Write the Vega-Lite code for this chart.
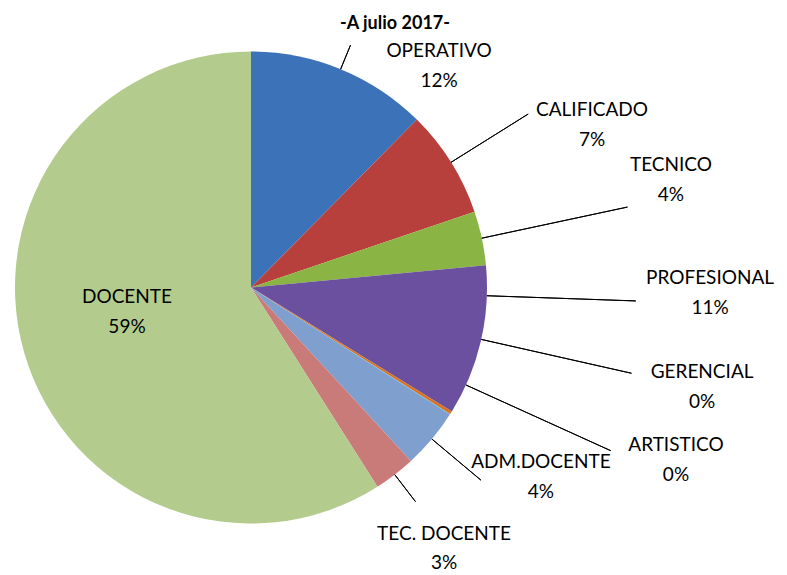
{
  "$schema": "https://vega.github.io/schema/vega-lite/v6.json",
  "autosize": {"type": "none"},
  "width": 502,
  "height": 515,
  "padding": {"left": 0, "top": 30, "right": 285, "bottom": 30},
  "background": "white",
  "title": {"text": "-A julio 2017-", "anchor": "middle", "dx": 144, "offset": -3, "fontSize": 18, "font": "Lato", "fontWeight": "bold", "color": "#000000"},
  "config": {"view": {"stroke": null}},
  "data": {"values": [
    {"order": 1, "cat": "OPERATIVO", "value": 12.4, "pct": "12%"},
    {"order": 2, "cat": "CALIFICADO", "value": 7.4, "pct": "7%"},
    {"order": 3, "cat": "TECNICO", "value": 3.7, "pct": "4%"},
    {"order": 4, "cat": "PROFESIONAL", "value": 10.3, "pct": "11%"},
    {"order": 5, "cat": "GERENCIAL", "value": 0.2, "pct": "0%"},
    {"order": 6, "cat": "ARTISTICO", "value": 0.05, "pct": "0%"},
    {"order": 7, "cat": "ADM.DOCENTE", "value": 4.1, "pct": "4%"},
    {"order": 8, "cat": "TEC. DOCENTE", "value": 2.85, "pct": "3%"},
    {"order": 9, "cat": "DOCENTE", "value": 59.0, "pct": "59%"}
  ]},
  "transform": [
    {"stack": "value", "groupby": [], "sort": [{"field": "order", "order": "ascending"}], "as": ["v0", "v1"]},
    {"calculate": "(datum.v0 + datum.v1) / 2", "as": "mid"},
    {"calculate": "datum.cat + '\\n' + datum.pct", "as": "label"}
  ],
  "layer": [
    {
      "mark": {"type": "arc", "outerRadius": 236},
      "encoding": {
        "theta": {"field": "v0", "type": "quantitative", "stack": null, "scale": {"domain": [0, 100], "range": [0, 6.283185307]}},
        "theta2": {"field": "v1"},
        "color": {"field": "cat", "type": "nominal", "legend": null, "scale": {
          "domain": ["OPERATIVO", "CALIFICADO", "TECNICO", "PROFESIONAL", "GERENCIAL", "ARTISTICO", "ADM.DOCENTE", "TEC. DOCENTE", "DOCENTE"],
          "range": ["#3B72B8", "#B8403C", "#8AB443", "#6C50A0", "#E0701A", "#4BACC6", "#7F9FCF", "#C97B7A", "#B3CC8D"]}}
      }
    },
    {
      "transform": [{"filter": "datum.cat === 'OPERATIVO'"}],
      "layer": [
        {"mark": {"type": "arc", "innerRadius": 236, "outerRadius": 262, "fill": "transparent", "stroke": "#000000", "strokeWidth": 1},
         "encoding": {"theta": {"field": "mid", "type": "quantitative", "stack": null, "scale": {"domain": [0, 100], "range": [0, 6.283185307]}}, "theta2": {"field": "mid"}}},
        {"mark": {"type": "text", "radius": 280, "dx": 81.7, "dy": 23, "font": "Lato", "fontSize": 19, "lineHeight": 30, "lineBreak": "\n", "align": "center", "baseline": "middle", "color": "#000000"},
         "encoding": {"theta": {"field": "mid", "type": "quantitative", "stack": null, "scale": {"domain": [0, 100], "range": [0, 6.283185307]}}, "text": {"field": "label"}}}
      ]
    },
    {
      "transform": [{"filter": "datum.cat === 'CALIFICADO'"}],
      "layer": [
        {"mark": {"type": "arc", "innerRadius": 236, "outerRadius": 327, "fill": "transparent", "stroke": "#000000", "strokeWidth": 1},
         "encoding": {"theta": {"field": "mid", "type": "quantitative", "stack": null, "scale": {"domain": [0, 100], "range": [0, 6.283185307]}}, "theta2": {"field": "mid"}}},
        {"mark": {"type": "text", "radius": 340, "dx": 52.8, "dy": 2.4, "font": "Lato", "fontSize": 19, "lineHeight": 30, "lineBreak": "\n", "align": "center", "baseline": "middle", "color": "#000000"},
         "encoding": {"theta": {"field": "mid", "type": "quantitative", "stack": null, "scale": {"domain": [0, 100], "range": [0, 6.283185307]}}, "text": {"field": "label"}}}
      ]
    },
    {
      "transform": [{"filter": "datum.cat === 'TECNICO'"}],
      "layer": [
        {"mark": {"type": "arc", "innerRadius": 236, "outerRadius": 385, "fill": "transparent", "stroke": "#000000", "strokeWidth": 1},
         "encoding": {"theta": {"field": "mid", "type": "quantitative", "stack": null, "scale": {"domain": [0, 100], "range": [0, 6.283185307]}}, "theta2": {"field": "mid"}}},
        {"mark": {"type": "text", "radius": 400, "dx": 28.8, "dy": -39.4, "font": "Lato", "fontSize": 19, "lineHeight": 30, "lineBreak": "\n", "align": "center", "baseline": "middle", "color": "#000000"},
         "encoding": {"theta": {"field": "mid", "type": "quantitative", "stack": null, "scale": {"domain": [0, 100], "range": [0, 6.283185307]}}, "text": {"field": "label"}}}
      ]
    },
    {
      "transform": [{"filter": "datum.cat === 'PROFESIONAL'"}],
      "layer": [
        {"mark": {"type": "arc", "innerRadius": 236, "outerRadius": 385, "thetaOffset": -0.1944, "theta2Offset": -0.1944, "fill": "transparent", "stroke": "#000000", "strokeWidth": 1},
         "encoding": {"theta": {"field": "mid", "type": "quantitative", "stack": null, "scale": {"domain": [0, 100], "range": [0, 6.283185307]}}, "theta2": {"field": "mid"}}},
        {"mark": {"type": "text", "radius": 400, "dx": 69.5, "dy": -100.4, "font": "Lato", "fontSize": 19, "lineHeight": 30, "lineBreak": "\n", "align": "center", "baseline": "middle", "color": "#000000"},
         "encoding": {"theta": {"field": "mid", "type": "quantitative", "stack": null, "scale": {"domain": [0, 100], "range": [0, 6.283185307]}}, "text": {"field": "label"}}}
      ]
    },
    {
      "transform": [{"filter": "datum.cat === 'GERENCIAL'"}],
      "layer": [
        {"mark": {"type": "arc", "innerRadius": 236, "outerRadius": 390, "thetaOffset": -0.3375, "theta2Offset": -0.3375, "fill": "transparent", "stroke": "#000000", "strokeWidth": 1},
         "encoding": {"theta": {"field": "mid", "type": "quantitative", "stack": null, "scale": {"domain": [0, 100], "range": [0, 6.283185307]}}, "theta2": {"field": "mid"}}},
        {"mark": {"type": "text", "radius": 400, "dx": 112, "dy": -128.2, "font": "Lato", "fontSize": 19, "lineHeight": 30, "lineBreak": "\n", "align": "center", "baseline": "middle", "color": "#000000"},
         "encoding": {"theta": {"field": "mid", "type": "quantitative", "stack": null, "scale": {"domain": [0, 100], "range": [0, 6.283185307]}}, "text": {"field": "label"}}}
      ]
    },
    {
      "transform": [{"filter": "datum.cat === 'ARTISTICO'"}],
      "layer": [
        {"mark": {"type": "arc", "innerRadius": 236, "outerRadius": 395, "thetaOffset": -0.1412, "theta2Offset": -0.1412, "fill": "transparent", "stroke": "#000000", "strokeWidth": 1},
         "encoding": {"theta": {"field": "mid", "type": "quantitative", "stack": null, "scale": {"domain": [0, 100], "range": [0, 6.283185307]}}, "theta2": {"field": "mid"}}},
        {"mark": {"type": "text", "radius": 400, "dx": 87.6, "dy": -56.9, "font": "Lato", "fontSize": 19, "lineHeight": 30, "lineBreak": "\n", "align": "center", "baseline": "middle", "color": "#000000"},
         "encoding": {"theta": {"field": "mid", "type": "quantitative", "stack": null, "scale": {"domain": [0, 100], "range": [0, 6.283185307]}}, "text": {"field": "label"}}}
      ]
    },
    {
      "transform": [{"filter": "datum.cat === 'ADM.DOCENTE'"}],
      "layer": [
        {"mark": {"type": "arc", "innerRadius": 236, "outerRadius": 300, "fill": "transparent", "stroke": "#000000", "strokeWidth": 1},
         "encoding": {"theta": {"field": "mid", "type": "quantitative", "stack": null, "scale": {"domain": [0, 100], "range": [0, 6.283185307]}}, "theta2": {"field": "mid"}}},
        {"mark": {"type": "text", "radius": 330, "dx": 37, "dy": -37.4, "font": "Lato", "fontSize": 19, "lineHeight": 30, "lineBreak": "\n", "align": "center", "baseline": "middle", "color": "#000000"},
         "encoding": {"theta": {"field": "mid", "type": "quantitative", "stack": null, "scale": {"domain": [0, 100], "range": [0, 6.283185307]}}, "text": {"field": "label"}}}
      ]
    },
    {
      "transform": [{"filter": "datum.cat === 'TEC. DOCENTE'"}],
      "layer": [
        {"mark": {"type": "arc", "innerRadius": 236, "outerRadius": 270, "fill": "transparent", "stroke": "#000000", "strokeWidth": 1},
         "encoding": {"theta": {"field": "mid", "type": "quantitative", "stack": null, "scale": {"domain": [0, 100], "range": [0, 6.283185307]}}, "theta2": {"field": "mid"}}},
        {"mark": {"type": "text", "radius": 320, "dx": -1.9, "dy": -7.3, "font": "Lato", "fontSize": 19, "lineHeight": 29, "lineBreak": "\n", "align": "center", "baseline": "middle", "color": "#000000"},
         "encoding": {"theta": {"field": "mid", "type": "quantitative", "stack": null, "scale": {"domain": [0, 100], "range": [0, 6.283185307]}}, "text": {"field": "label"}}}
      ]
    },
    {
      "transform": [{"filter": "datum.cat === 'DOCENTE'"}],
      "mark": {"type": "text", "radius": 126, "dx": -3, "dy": -25.2, "font": "Lato", "fontSize": 19, "lineHeight": 30, "lineBreak": "\n", "align": "center", "baseline": "middle", "color": "#000000"},
      "encoding": {"theta": {"field": "mid", "type": "quantitative", "stack": null, "scale": {"domain": [0, 100], "range": [0, 6.283185307]}}, "text": {"field": "label"}}
    }
  ]
}
